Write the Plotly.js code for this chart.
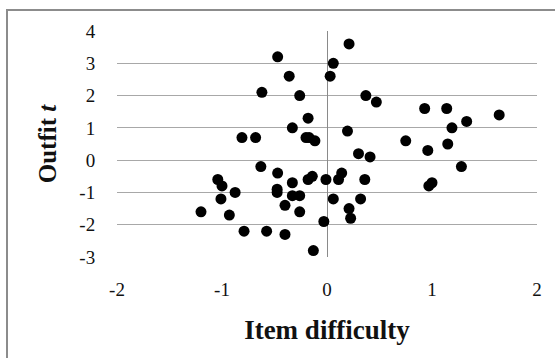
<!DOCTYPE html>
<html>
<head>
<meta charset="utf-8">
<script src="https://cdn.plot.ly/plotly-3.0.1.min.js"></script>
<style>
html,body{margin:0;padding:0;background:#fff;}
#chart{width:555px;height:358px;}
</style>
</head>
<body>
<div id="chart"></div>
<script>
// Item difficulty (x) vs Outfit t (y)
var itemDifficulty = [-0.47, 0.21, 0.06, -0.36, 0.03, -0.62, -0.26, 0.37, 0.47, 0.93,
  1.14, 1.64, 1.33, -0.18, -0.33, 1.19, 0.195, -0.81, -0.68, -0.20,
  -0.17, -0.115, 0.75, 1.15, 0.96, 0.30, 0.41, -0.63, 1.28, -0.47,
  0.14, -1.04, -0.18, -0.14, -0.01, 0.11, 0.36, -0.33, -1.0, 0.97,
  1.0, -0.875, -0.475, -0.475, -0.33, -0.26, -1.01, 0.06, 0.32, -0.40,
  0.21, -1.2, -0.26, -0.93, 0.225, -0.03, -0.79, -0.575, -0.40, -0.13];
var outfitT = [3.2, 3.6, 3.0, 2.6, 2.6, 2.1, 2.0, 2.0, 1.8, 1.6,
  1.6, 1.4, 1.2, 1.3, 1.0, 1.0, 0.9, 0.7, 0.7, 0.7,
  0.7, 0.6, 0.6, 0.5, 0.3, 0.2, 0.1, -0.2, -0.2, -0.4,
  -0.4, -0.6, -0.6, -0.5, -0.6, -0.6, -0.6, -0.7, -0.8, -0.8,
  -0.7, -1.0, -0.9, -1.0, -1.1, -1.1, -1.2, -1.2, -1.2, -1.4,
  -1.5, -1.6, -1.6, -1.7, -1.8, -1.9, -2.2, -2.2, -2.3, -2.8];
var xTicks = [-2, -1, 0, 1, 2];
var yTicks = [-3, -2, -1, 0, 1, 2, 3, 4];

var serif = '"Liberation Serif", "Times New Roman", serif';

var trace = {
  type: 'scatter',
  mode: 'markers',
  x: itemDifficulty,
  y: outfitT,
  marker: {color: '#000000', size: 11, symbol: 'circle'},
  hoverinfo: 'x+y'
};

var layout = {
  width: 555,
  height: 358,
  margin: {l: 117, r: 18, t: 31, b: 101, pad: 0},
  paper_bgcolor: '#ffffff',
  plot_bgcolor: '#ffffff',
  showlegend: false,
  xaxis: {
    range: [-2, 2],
    tickvals: xTicks,
    ticktext: xTicks.map(String),
    showgrid: false,
    zeroline: true,
    zerolinecolor: '#8a8a8a',
    zerolinewidth: 1,
    showline: false,
    ticks: 'outside',
    ticklen: 15,
    tickcolor: 'rgba(0,0,0,0)',
    tickfont: {family: serif, size: 19, color: '#111111'},
    title: {text: 'Item difficulty', standoff: 21,
      font: {family: serif, size: 27, color: '#111111', weight: 'bold'}},
    fixedrange: true
  },
  yaxis: {
    range: [-3, 4],
    tickvals: yTicks,
    ticktext: yTicks.map(String),
    showgrid: true,
    gridcolor: '#a8a8a8',
    gridwidth: 1,
    zeroline: false,
    showline: false,
    ticks: 'outside',
    ticklen: 17,
    tickcolor: 'rgba(0,0,0,0)',
    tickfont: {family: serif, size: 19, color: '#111111'},
    title: {text: 'Outfit <i>t</i>', standoff: 15,
      font: {family: serif, size: 25, color: '#111111', weight: 'bold'}},
    fixedrange: true
  },
  shapes: [{
    type: 'rect', xref: 'paper', yref: 'paper',
    x0: (7 - 117) / 420, x1: (560 - 117) / 420,
    y0: (257 - 365) / 226, y1: (257 - 10) / 226,
    line: {color: '#8c8c8c', width: 2},
    fillcolor: 'rgba(0,0,0,0)',
    layer: 'below'
  }]
};

Plotly.newPlot('chart', [trace], layout, {displayModeBar: false, staticPlot: true});
</script>
</body>
</html>
